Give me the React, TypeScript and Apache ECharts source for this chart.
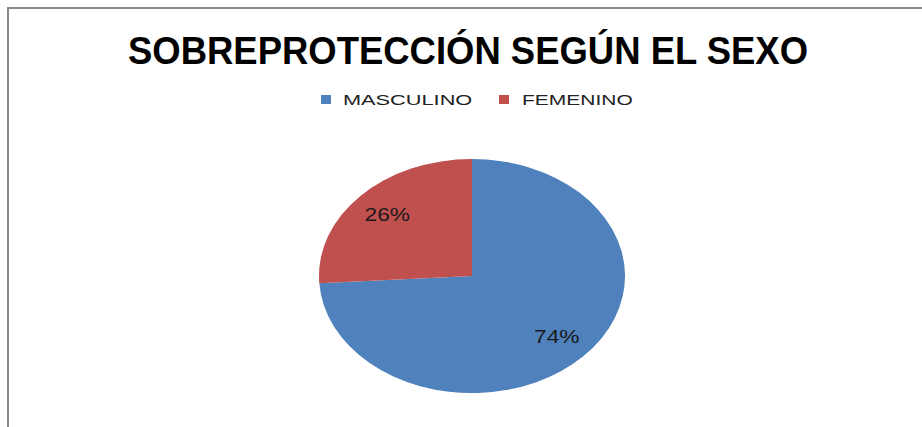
import React, { useEffect, useRef } from "react";
import * as echarts from "echarts";

const titleText = "SOBREPROTECCIÓN SEGÚN EL SEXO";
const categories = ["MASCULINO", "FEMENINO"];
const values = [74, 26];
const colors = ["#4F81BD", "#C0504D"];

export default function App() {
  const ref = useRef<HTMLDivElement>(null);

  useEffect(() => {
    if (!ref.current) return;
    const chart = echarts.init(ref.current, null, { renderer: "svg" });
    const total = values.reduce((a, b) => a + b, 0);
    const starts: number[] = [];
    let acc = 0;
    values.forEach((v) => {
      starts.push(acc);
      acc += v;
    });
    const CX = 472;
    const CY = 276;
    const RX = 153;
    const RY = 117;

    const series = categories.map((name, i) => ({
      type: "custom",
      name,
      coordinateSystem: "none",
      silent: true,
      data: [[values[i], starts[i]]],
      itemStyle: { color: colors[i] },
      renderItem: (_params: any, api: any) => {
        const v = api.value(0) as number;
        const s = api.value(1) as number;
        const a0 = -Math.PI / 2 + (s / total) * 2 * Math.PI;
        const a1 = -Math.PI / 2 + ((s + v) / total) * 2 * Math.PI;
        const mid = (a0 + a1) / 2;
        const pct = Math.round((v / total) * 100) + "%";
        return {
          type: "group",
          children: [
            {
              type: "sector",
              x: CX,
              y: CY,
              scaleY: RY / RX,
              shape: { cx: 0, cy: 0, r: RX, r0: 0, startAngle: a0, endAngle: a1, clockwise: true },
              style: { fill: colors[i] },
            },
            {
              type: "text",
              x: CX + 0.76 * RX * Math.cos(mid),
              y: CY + 0.76 * RY * Math.sin(mid),
              scaleX: 1.3,
              style: {
                text: pct,
                fill: "#1a1a1a",
                font: "17.5px 'Liberation Sans', Arial, sans-serif",
                textAlign: "center",
                textVerticalAlign: "middle",
                align: "center",
                verticalAlign: "middle",
              },
            },
          ],
        };
      },
    }));

    const legendItems: any[] = [];
    const legendX = [321, 499];
    const legendTextX = [343, 522];
    const legendScale = [1.45, 1.4];
    categories.forEach((name, i) => {
      legendItems.push({
        type: "rect",
        shape: { x: legendX[i], y: 95, width: 10, height: 9 },
        style: { fill: colors[i] },
      });
      legendItems.push({
        type: "text",
        x: legendTextX[i],
        y: 99.5,
        scaleX: legendScale[i],
        style: {
          text: name,
          fill: "#222",
          font: "15px 'Liberation Sans', Arial, sans-serif",
          textAlign: "left",
          textVerticalAlign: "middle",
          align: "left",
          verticalAlign: "middle",
        },
      });
    });

    chart.setOption({
      animation: false,
      backgroundColor: "#ffffff",
      graphic: [
        {
          type: "rect",
          shape: { x: 8, y: 8, width: 1000, height: 1000 },
          style: { fill: "none", stroke: "#888888", lineWidth: 2 },
          silent: true,
        },
        {
          type: "text",
          x: 468,
          y: 50.5,
          scaleX: 0.935,
          style: {
            text: titleText,
            fill: "#000",
            font: "bold 39px 'Liberation Sans', Arial, sans-serif",
            textAlign: "center",
            textVerticalAlign: "middle",
            align: "center",
            verticalAlign: "middle",
          },
        },
        ...legendItems,
      ],
      series,
    });

    return () => chart.dispose();
  }, []);

  return (
    <div
      ref={ref}
      style={{ position: "absolute", left: 0, top: 0, width: 922, height: 427 }}
    />
  );
}
